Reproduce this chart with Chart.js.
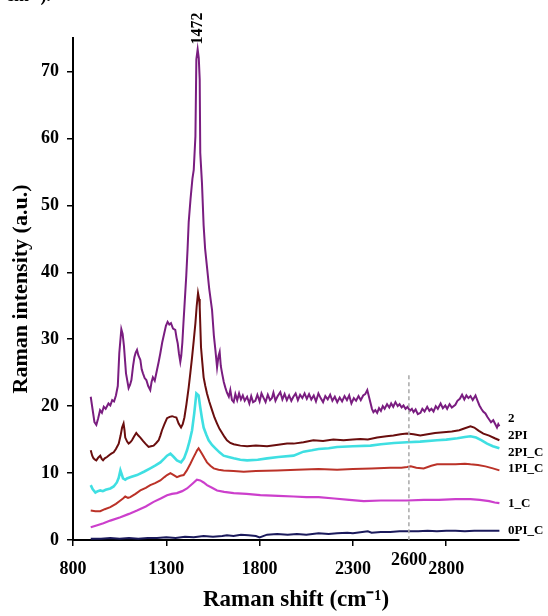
<!DOCTYPE html>
<html>
<head>
<meta charset="utf-8">
<script src="https://cdn.jsdelivr.net/npm/chart.js@4/dist/chart.umd.min.js"></script>
<style>
  html, body { margin: 0; padding: 0; background: #fff; overflow: hidden; }
  #wrap { position: relative; width: 548px; height: 616px; }
  #cut { position: absolute; left: 6px; top: -18px; font: bold 18px 'Liberation Serif', serif; color: #000; }
</style>
</head>
<body>
<div id="wrap">
  <canvas id="chart" width="548" height="616"></canvas>
  <div id="cut">cm⁻¹).</div>
</div>
<script>
// Raman spectra
const seriesNames = ['2', '2PI', '2PI_C', '1PI_C', '1_C', '0PI_C'];
const seriesColors = ['#7a1d80', '#6a0e0e', '#3fdfe2', '#bb3228', '#cc3fcc', '#1b1a5c'];
const seriesWidths = [2, 2, 2.6, 2, 2.2, 2];

// where the names sit on the right (intensity units)
const labelValues = [18.2, 15.6, 13.1, 10.7, 5.5, 1.4];

const xTicks = [800, 1300, 1800, 2300, 2800];
const yTicks = [0, 10, 20, 30, 40, 50, 60, 70];

const peakLabel = '1472';
const peakShift = 1468;
const markShift = 2600;
const markTop = 24.6;

// sample "2"
const shift2 = [895, 905, 915, 925, 935, 945, 955, 965, 975, 990, 1000, 1010, 1020, 1030, 1040, 1048, 1059, 1066, 1073, 1084,
  1098, 1106, 1113, 1122, 1129, 1136, 1143, 1150, 1161, 1168, 1175, 1184, 1193, 1203, 1214, 1221, 1228, 1238, 1250, 1259,
  1268, 1278, 1289, 1298, 1307, 1316, 1325, 1336, 1348, 1355, 1361, 1368, 1375, 1380, 1386, 1392, 1397, 1407, 1414, 1420,
  1430, 1440, 1447, 1456, 1461, 1468, 1474, 1479, 1482, 1491, 1500, 1508, 1518, 1530, 1545, 1555, 1563, 1572, 1580, 1586,
  1592, 1599, 1608, 1616, 1625, 1635, 1643, 1652, 1661, 1670, 1680, 1690, 1700, 1710, 1720, 1733, 1745, 1755, 1765, 1777,
  1788, 1800, 1810, 1820, 1832, 1844, 1856, 1866, 1874, 1885, 1897, 1911, 1922, 1934, 1946, 1958, 1970, 1981, 1993, 2005,
  2017, 2029, 2041, 2053, 2065, 2077, 2090, 2102, 2115, 2127, 2140, 2152, 2165, 2178, 2190, 2203, 2216, 2229, 2242, 2255,
  2268, 2280, 2292, 2305, 2317, 2330, 2342, 2355, 2366, 2377, 2385, 2394, 2402, 2410, 2420, 2430, 2440, 2450, 2460, 2470,
  2483, 2495, 2505, 2516, 2528, 2540, 2550, 2561, 2571, 2582, 2593, 2605, 2616, 2625, 2636, 2648, 2662, 2672, 2684, 2698,
  2710, 2721, 2732, 2744, 2755, 2770, 2782, 2795, 2805, 2818, 2830, 2849, 2860, 2873, 2885, 2897, 2908, 2919, 2930, 2942,
  2957, 2968, 2978, 2988, 2998, 3010, 3020, 3030, 3040, 3052, 3063, 3072, 3079, 3085];
const int2 = [21.4, 19.5, 17.6, 17.2, 18.2, 19.4, 19.0, 19.9, 19.6, 20.4, 20.1, 20.9, 20.7, 21.6, 23.0, 27.9, 31.5, 30.8, 29.0, 24.9,
  22.7, 23.2, 23.9, 26.0, 27.3, 28.0, 28.4, 27.6, 26.9, 25.5, 24.9, 24.2, 23.9, 23.0, 22.4, 23.6, 24.3, 23.8, 25.4, 26.6,
  27.9, 29.5, 30.9, 32.0, 32.6, 32.2, 32.4, 31.6, 31.4, 30.2, 29.4, 27.8, 26.6, 27.5, 29.5, 32.5, 34.8, 39.5, 43.5, 47.5,
  51.0, 54.0, 55.3, 60.3, 71.8, 73.3, 72.0, 68.8, 57.8, 53.4, 47.0, 43.5, 40.8, 37.5, 34.4, 30.5, 28.4, 25.8, 27.5, 28.1,
  26.0, 24.9, 23.6, 22.8, 22.0, 21.4, 22.4, 20.9, 20.6, 21.8, 20.9, 21.9, 21.0, 21.6, 20.8, 21.4, 20.4, 21.5, 20.6, 20.8,
  21.7, 20.7, 21.9, 21.3, 20.6, 21.7, 20.9, 21.2, 22.0, 20.8, 21.5, 22.1, 21.0, 21.8, 20.9, 21.6, 20.8, 21.4, 21.9, 20.9,
  21.7, 21.2, 21.9, 21.1, 21.8, 21.0, 21.6, 20.7, 21.9, 21.2, 20.6, 21.5, 21.0, 21.7, 20.8, 21.4, 20.6, 21.3, 20.7, 21.5,
  20.9, 21.6, 20.4, 21.2, 20.8, 21.5, 20.9, 21.6, 21.8, 22.4, 21.5, 20.5, 19.6, 19.1, 19.4, 19.0, 19.7, 19.3, 20.0, 19.6,
  20.3, 19.8, 20.4, 19.9, 20.6, 20.0, 20.3, 19.8, 20.1, 19.6, 19.9, 19.3, 19.6, 19.1, 19.5, 18.8, 19.0, 19.6, 19.2, 19.9,
  19.3, 19.6, 19.2, 20.0, 19.6, 20.4, 19.7, 20.1, 19.6, 20.3, 19.8, 20.2, 20.8, 21.1, 21.7, 21.0, 21.6, 21.2, 21.5, 20.9,
  21.6, 20.8, 20.1, 19.6, 19.2, 18.9, 18.4, 18.0, 17.6, 17.9, 17.3, 16.8, 17.3, 17.0];

// sample "2PI"
const shift2PI = [895, 903, 910, 918, 925, 935, 946, 954, 961, 970, 982, 995, 1005, 1018, 1030, 1045, 1055, 1063, 1071, 1076,
  1080, 1090, 1098, 1107, 1116, 1128, 1139, 1150, 1161, 1175, 1188, 1205, 1218, 1232, 1246, 1259, 1268, 1277, 1290, 1304,
  1318, 1331, 1342, 1354, 1366, 1379, 1388, 1397, 1408, 1420, 1429, 1438, 1447, 1456, 1463, 1470, 1476, 1479, 1486, 1493,
  1500, 1509, 1518, 1530, 1545, 1558, 1572, 1585, 1599, 1612, 1625, 1643, 1661, 1697, 1733, 1780, 1840, 1890, 1947, 1982,
  2035, 2088, 2140, 2195, 2250, 2300, 2340, 2380, 2430, 2480, 2517, 2555, 2590, 2625, 2661, 2700, 2740, 2785, 2830, 2870,
  2900, 2930, 2950, 2975, 2999, 3030, 3060, 3085];
const int2PI = [13.4, 12.6, 12.2, 12.0, 11.9, 12.3, 12.6, 12.1, 11.9, 12.2, 12.4, 12.7, 12.9, 13.1, 13.6, 14.4, 15.6, 16.8, 17.4, 16.4,
  15.3, 14.7, 14.4, 14.6, 14.9, 15.5, 16.0, 15.6, 15.3, 14.8, 14.4, 13.9, 14.0, 14.1, 14.5, 14.9, 15.6, 16.4, 17.3, 18.2,
  18.4, 18.5, 18.4, 18.3, 17.4, 16.8, 17.3, 18.3, 20.3, 22.8, 25.0, 27.3, 29.8, 32.4, 35.0, 36.9, 36.0, 34.8, 28.8, 26.5,
  24.3, 23.0, 21.9, 20.7, 19.4, 18.3, 17.4, 16.6, 16.0, 15.4, 14.9, 14.5, 14.3, 14.1, 14.0, 14.1, 14.0, 14.2, 14.4, 14.4,
  14.6, 14.9, 14.8, 15.0, 14.9, 15.0, 15.1, 15.0, 15.3, 15.5, 15.6, 15.8, 15.9, 15.8, 15.6, 15.8, 16.0, 16.1, 16.2, 16.4,
  16.7, 17.0, 16.8, 16.3, 15.9, 15.6, 15.2, 14.9];

// sample "2PI_C"
const shift2PIC = [895, 905, 920, 933, 946, 960, 975, 1000, 1018, 1035, 1045, 1054, 1060, 1068, 1080, 1089, 1110, 1143, 1180, 1214,
  1240, 1268, 1290, 1304, 1322, 1340, 1357, 1379, 1395, 1411, 1425, 1438, 1450, 1461, 1473, 1482, 1491, 1500, 1515, 1527,
  1545, 1563, 1585, 1607, 1634, 1661, 1697, 1733, 1790, 1840, 1900, 1982, 2035, 2080, 2116, 2170, 2215, 2300, 2394, 2450,
  2520, 2590, 2660, 2751, 2800, 2860, 2900, 2930, 2960, 2990, 3019, 3050, 3085];
const int2PIC = [8.2, 7.6, 7.1, 7.3, 7.4, 7.3, 7.5, 7.7, 8.0, 8.6, 9.3, 10.4, 9.9, 9.2, 9.0, 9.2, 9.4, 9.7, 10.2, 10.7,
  11.1, 11.6, 12.2, 12.6, 12.9, 12.4, 11.9, 11.6, 12.2, 13.4, 14.8, 16.4, 19.0, 21.9, 21.6, 19.8, 18.2, 16.8, 15.7, 14.9,
  14.2, 13.7, 13.1, 12.6, 12.4, 12.2, 12.0, 11.9, 12.0, 12.2, 12.4, 12.6, 13.2, 13.4, 13.6, 13.7, 13.9, 14.0, 14.1, 14.3,
  14.5, 14.6, 14.7, 14.9, 15.0, 15.2, 15.4, 15.5, 15.3, 14.9, 14.4, 14.0, 13.7];

// sample "1PI_C"
const shift1PIC = [895, 920, 946, 970, 1000, 1030, 1054, 1068, 1080, 1095, 1107, 1135, 1161, 1190, 1214, 1240, 1268, 1290, 1304, 1322,
  1340, 1357, 1375, 1393, 1410, 1429, 1445, 1456, 1465, 1473, 1482, 1491, 1505, 1518, 1536, 1554, 1580, 1607, 1660, 1715,
  1780, 1894, 2000, 2116, 2215, 2300, 2400, 2500, 2560, 2590, 2610, 2640, 2679, 2720, 2751, 2800, 2850, 2900, 2930, 2970,
  3010, 3050, 3085];
const int1PIC = [4.4, 4.3, 4.3, 4.6, 4.9, 5.4, 5.9, 6.2, 6.5, 6.3, 6.4, 6.9, 7.4, 7.8, 8.2, 8.5, 8.9, 9.4, 9.7, 10.0,
  9.7, 9.4, 9.6, 9.7, 10.4, 11.4, 12.3, 12.9, 13.4, 13.7, 13.3, 12.9, 12.2, 11.6, 11.1, 10.7, 10.5, 10.4, 10.3, 10.2,
  10.3, 10.4, 10.5, 10.6, 10.5, 10.6, 10.7, 10.8, 10.8, 10.9, 11.0, 10.8, 10.7, 11.1, 11.3, 11.3, 11.3, 11.4, 11.3, 11.2,
  11.0, 10.7, 10.4];

// sample "1_C"
const shift1C = [895, 930, 963, 1000, 1054, 1100, 1143, 1190, 1232, 1270, 1304, 1330, 1357, 1385, 1411, 1440, 1464, 1482, 1500, 1518,
  1545, 1572, 1610, 1661, 1730, 1804, 1900, 1982, 2050, 2116, 2200, 2280, 2358, 2450, 2520, 2590, 2680, 2760, 2850, 2930,
  2980, 3030, 3060, 3085];
const int1C = [1.9, 2.2, 2.5, 2.9, 3.4, 3.9, 4.4, 5.0, 5.7, 6.2, 6.7, 6.9, 7.0, 7.3, 7.7, 8.4, 9.0, 8.9, 8.6, 8.2,
  7.8, 7.4, 7.2, 7.0, 6.9, 6.7, 6.6, 6.5, 6.4, 6.4, 6.2, 6.0, 5.8, 5.9, 5.9, 5.9, 6.0, 6.0, 6.1, 6.1,
  6.0, 5.8, 5.6, 5.5];

// sample "0PI_C"
const shift0PIC = [895, 950, 1000, 1050, 1100, 1150, 1200, 1250, 1300, 1350, 1400, 1447, 1500, 1550, 1600, 1625, 1660, 1700, 1740, 1780,
  1800, 1840, 1894, 1950, 2000, 2050, 2116, 2170, 2215, 2270, 2300, 2350, 2380, 2400, 2450, 2500, 2550, 2590, 2650, 2700,
  2750, 2800, 2850, 2900, 2950, 3000, 3050, 3085];
const int0PIC = [0.2, 0.2, 0.3, 0.2, 0.3, 0.2, 0.3, 0.3, 0.4, 0.3, 0.5, 0.4, 0.6, 0.5, 0.6, 0.7, 0.6, 0.8, 0.7, 0.6,
  0.4, 0.8, 0.9, 0.8, 0.9, 0.8, 1.0, 0.9, 1.0, 1.1, 1.0, 1.2, 1.3, 1.1, 1.2, 1.2, 1.3, 1.3, 1.3, 1.4,
  1.3, 1.4, 1.4, 1.3, 1.4, 1.4, 1.4, 1.4];

const shifts = [shift2, shift2PI, shift2PIC, shift1PIC, shift1C, shift0PIC];
const intensities = [int2, int2PI, int2PIC, int1PIC, int1C, int0PIC];

const serif = "'Liberation Serif', 'Times New Roman', serif";

const datasets = seriesNames.map((name, i) => ({
  label: name,
  data: shifts[i].map((x, j) => ({ x: x, y: intensities[i][j] })),
  borderColor: seriesColors[i],
  borderWidth: seriesWidths[i],
  pointRadius: 0,
  tension: 0,
  fill: false
}));

// text and marks that are not part of the axes
const extras = {
  id: 'extras',
  afterDatasetsDraw(chart) {
    const ctx = chart.ctx;
    const xs = chart.scales.x;
    const ys = chart.scales.y;
    const area = chart.chartArea;
    ctx.save();

    // dashed marker at 2600
    const mx = xs.getPixelForValue(markShift);
    ctx.strokeStyle = '#a8a8a8';
    ctx.lineWidth = 1.5;
    ctx.setLineDash([4, 3]);
    ctx.beginPath();
    ctx.moveTo(mx, ys.getPixelForValue(markTop));
    ctx.lineTo(mx, ys.getPixelForValue(0));
    ctx.stroke();
    ctx.setLineDash([]);

    ctx.fillStyle = '#000';
    ctx.font = 'bold 18px ' + serif;
    ctx.textAlign = 'center';
    ctx.textBaseline = 'middle';
    ctx.fillText(String(markShift), mx, area.bottom + 20);

    // series names
    ctx.font = '600 13px ' + serif;
    ctx.textAlign = 'left';
    seriesNames.forEach((name, i) => {
      ctx.fillText(name, area.right - 11, ys.getPixelForValue(labelValues[i]));
    });

    // peak label, rotated
    const px = xs.getPixelForValue(peakShift);
    const py = ys.getPixelForValue(73.3);
    ctx.translate(px, py - 5);
    ctx.rotate(-Math.PI / 2);
    ctx.font = 'bold 16px ' + serif;
    ctx.textAlign = 'left';
    ctx.textBaseline = 'middle';
    ctx.fillText(peakLabel, 0, 0);
    ctx.restore();
  }
};

new Chart(document.getElementById('chart').getContext('2d'), {
  type: 'line',
  data: { datasets: datasets },
  plugins: [extras],
  options: {
    responsive: false,
    animation: false,
    layout: { padding: { top: 38, right: 29, left: 0, bottom: 0 } },
    plugins: { legend: { display: false }, tooltip: { enabled: false } },
    scales: {
      x: {
        type: 'linear',
        min: 800,
        max: 3190,
        afterBuildTicks: s => { s.ticks = xTicks.map(v => ({ value: v })); },
        afterFit: s => { s.height = 76; },
        ticks: {
          color: '#000',
          font: { family: serif, size: 18, weight: 'bold' },
          padding: 13,
          maxRotation: 0,
          callback: v => String(v)
        },
        grid: { drawOnChartArea: false, drawTicks: true, tickLength: 6, color: '#000', lineWidth: 1.5 },
        border: { display: true, color: '#000', width: 2 },
        title: {
          display: true,
          text: 'Raman shift (cm⁻¹)',
          color: '#000',
          font: { family: serif, size: 23, weight: 'bold' },
          padding: { top: 0, bottom: 2 }
        }
      },
      y: {
        min: 0,
        max: 75,
        afterBuildTicks: s => { s.ticks = yTicks.map(v => ({ value: v })); },
        afterFit: s => { s.width = 73; },
        ticks: {
          color: '#000',
          font: { family: serif, size: 18, weight: 'bold' },
          padding: 8,
          callback: v => String(v)
        },
        grid: { drawOnChartArea: false, drawTicks: true, tickLength: 6, color: '#000', lineWidth: 1.5 },
        border: { display: true, color: '#000', width: 2 },
        title: {
          display: true,
          text: 'Raman intensity (a.u.)',
          color: '#000',
          font: { family: serif, size: 22, weight: 'bold' },
          padding: { top: 8, bottom: 0 }
        }
      }
    }
  }
});
</script>
</body>
</html>
